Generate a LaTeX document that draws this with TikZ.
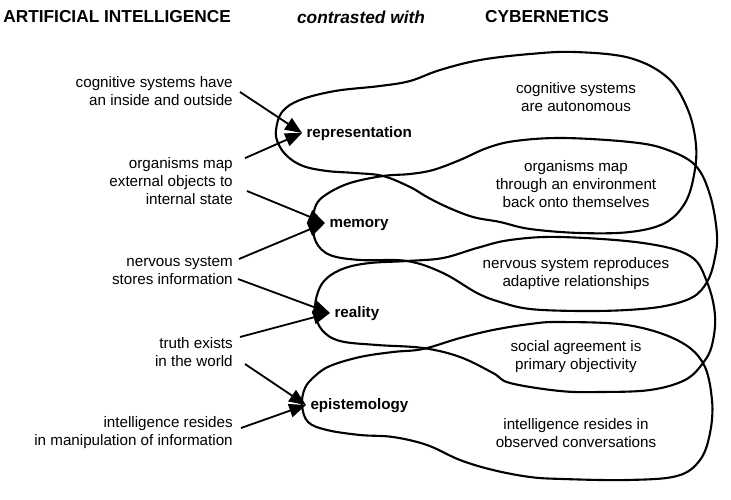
\documentclass[tikz,border=0pt]{standalone}
\usepackage{fontspec}
\setmainfont{Liberation Sans}
\usetikzlibrary{arrows.meta}

\begin{document}
\begin{tikzpicture}[
  x=0.025cm, y=-0.025cm,
  % Node styles
  heading/.style={font=\fontsize{12.3}{14}\selectfont\bfseries, inner sep=0pt},
  aiview/.style={align=right, anchor=east, inner sep=0pt, font=\fontsize{10.8}{12.8}\selectfont},
  cyberview/.style={align=center, inner sep=0pt, font=\fontsize{10.8}{12.8}\selectfont},
  concept/.style={anchor=west, inner xsep=3pt, inner ysep=0pt, text height=1.5ex, text depth=.25ex, font=\fontsize{10.8}{12.8}\selectfont\bfseries},
  % Edge styles
  mapsto/.style={-{Triangle[length=4.2mm, width=3.4mm]}, line width=1.3pt},
  lobe/.style={line width=1.5pt},
]
\useasboundingbox (0,0) rectangle (731,500);

% === HEADINGS ===
\node[heading, anchor=west] (hAI) at (3,17) {ARTIFICIAL INTELLIGENCE};
\node[heading] (hvs) at (361,17) {\itshape contrasted with};
\node[heading] (hCy) at (547,17) {CYBERNETICS};

% === LEFT: artificial intelligence claims ===
\node[aiview] (inout)  at (233,91)  {cognitive systems have\\an inside and outside};
\node[aiview] (objmap) at (233,181) {organisms map\\external objects to\\internal state};
\node[aiview] (stores) at (233,271) {nervous system\\stores information};
\node[aiview] (truth)  at (233,352) {truth exists\\in the world};
\node[aiview] (manip)  at (233,433) {intelligence resides\\in manipulation of information};

% === MIDDLE: shared concepts ===
\node[concept] (rep)  at (302,133) {representation};
\node[concept] (mem)  at (325,223) {memory};
\node[concept] (real) at (330,313) {reality};
\node[concept] (epi)  at (306,405) {epistemology};

% === RIGHT: cybernetic claims ===
\node[cyberview] (auto)  at (576,97)  {cognitive systems\\are autonomous};
\node[cyberview] (envir) at (576,184) {organisms map\\through an environment\\back onto themselves};
\node[cyberview] (adapt) at (576,274) {nervous system reproduces\\adaptive relationships};
\node[cyberview] (agree) at (576,357) {social agreement is\\primary objectivity};
\node[cyberview] (conv)  at (576,433) {intelligence resides in\\observed conversations};

% ============================================================
% ARROWS into the concepts
% ============================================================
\draw[mapsto] ([shift={(7,1)}]inout.east)     -- (rep.west);
\draw[mapsto] ([shift={(12,1)}]objmap.north east) -- (rep.west);
\draw[mapsto] ([shift={(14,10)}]objmap.east)  -- (mem.west);
\draw[mapsto] ([shift={(6,-12)}]stores.east)  -- (mem.west);
\draw[mapsto] ([shift={(5,8)}]stores.east)    -- (real.west);
\draw[mapsto] ([shift={(7,-15)}]truth.east)   -- (real.west);
\draw[mapsto] ([shift={(12,12)}]truth.east)   -- (epi.west);
\draw[mapsto] ([shift={(8,-5)}]manip.east)    -- (epi.west);

% ============================================================
% LOBES (one per concept, overlapping on the right)
% ============================================================
% representation
\draw[lobe] plot[smooth cycle, tension=0.6] coordinates {
  (276,130) (282,112) (300,100) (335,91) (380,86) (410,81) (440,70) (480,60)
  (530,54) (575,52) (630,58) (668,78) (688,110) (696,145) (694,175) (685,203)
  (665,223) (630,232) (580,233) (530,229) (500,222) (473,217) (447,207)
  (427,197) (410,187) (383,176) (355,173) (327,171) (303,166) (287,156) (278,143)};
% memory
\draw[lobe] plot[smooth cycle, tension=0.6] coordinates {
  (313,223) (316,205) (327,194) (350,183) (383,176) (410,174) (433,170)
  (460,160) (487,148) (515,141) (563,138) (630,142) (665,149) (695,165)
  (710,195) (717,235) (714,262) (707,282) (693,297) (665,306) (627,310)
  (580,311) (530,309) (500,302) (477,293) (443,273) (407,261) (360,260)
  (330,255) (316,242)};
% reality
\draw[lobe] plot[smooth cycle, tension=0.6] coordinates {
  (315,312) (318,292) (327,278) (345,268) (370,263) (407,261) (443,258)
  (477,248) (510,240) (560,237) (643,243) (690,256) (707,282) (715,315)
  (712,345) (703,363) (685,380) (650,390) (600,392) (560,391) (510,383)
  (493,373) (460,357) (423,348) (377,345) (340,341) (322,330)};
% epistemology
\draw[lobe] plot[smooth cycle, tension=0.6] coordinates {
  (302,405) (305,388) (315,376) (330,366) (360,357) (393,352) (423,349)
  (460,338) (493,330) (530,324) (560,322) (627,325) (677,340) (703,363)
  (712,400) (710,433) (700,460) (677,476) (627,480) (563,479) (530,477)
  (493,470) (460,460) (427,445) (393,437) (360,435) (327,430) (308,422)};

\end{tikzpicture}
\end{document}
